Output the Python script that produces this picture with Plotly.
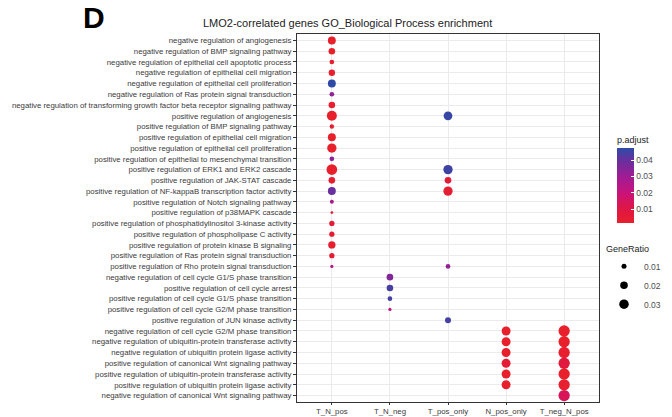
import plotly.graph_objects as go
import math

terms = [
    "negative regulation of angiogenesis",
    "negative regulation of BMP signaling pathway",
    "negative regulation of epithelial cell apoptotic process",
    "negative regulation of epithelial cell migration",
    "negative regulation of epithelial cell proliferation",
    "negative regulation of Ras protein signal transduction",
    "negative regulation of transforming growth factor beta receptor signaling pathway",
    "positive regulation of angiogenesis",
    "positive regulation of BMP signaling pathway",
    "positive regulation of epithelial cell migration",
    "positive regulation of epithelial cell proliferation",
    "positive regulation of epithelial to mesenchymal transition",
    "positive regulation of ERK1 and ERK2 cascade",
    "positive regulation of JAK-STAT cascade",
    "positive regulation of NF-kappaB transcription factor activity",
    "positive regulation of Notch signaling pathway",
    "positive regulation of p38MAPK cascade",
    "positive regulation of phosphatidylinositol 3-kinase activity",
    "positive regulation of phospholipase C activity",
    "positive regulation of protein kinase B signaling",
    "positive regulation of Ras protein signal transduction",
    "positive regulation of Rho protein signal transduction",
    "negative regulation of cell cycle G1/S phase transition",
    "positive regulation of cell cycle arrest",
    "positive regulation of cell cycle G1/S phase transition",
    "positive regulation of cell cycle G2/M phase transition",
    "positive regulation of JUN kinase activity",
    "negative regulation of cell cycle G2/M phase transition",
    "negative regulation of ubiquitin-protein transferase activity",
    "negative regulation of ubiquitin protein ligase activity",
    "positive regulation of canonical Wnt signaling pathway",
    "positive regulation of ubiquitin-protein transferase activity",
    "positive regulation of ubiquitin protein ligase activity",
    "negative regulation of canonical Wnt signaling pathway",
]

groups = ["T_N_pos", "T_N_neg", "T_pos_only", "N_pos_only", "T_neg_N_pos"]

# T_N_pos
tnpos_terms = terms[0:22]
tnpos_ratio = [0.022, 0.016, 0.009, 0.015, 0.022, 0.009, 0.016, 0.033, 0.008, 0.022, 0.029,
               0.009, 0.037, 0.016, 0.022, 0.007, 0.004, 0.011, 0.011, 0.019, 0.011, 0.005]
tnpos_padj = [0.002, 0.002, 0.003, 0.003, 0.047, 0.033, 0.003, 0.002, 0.004, 0.002, 0.002,
              0.033, 0.002, 0.004, 0.040, 0.028, 0.006, 0.005, 0.004, 0.003, 0.004, 0.024]

# T_N_neg
tnneg_terms = terms[22:26]
tnneg_ratio = [0.016, 0.016, 0.009, 0.005]
tnneg_padj = [0.035, 0.044, 0.044, 0.022]

# T_pos_only
tpos_terms = [terms[7], terms[12], terms[13], terms[14], terms[21], terms[26]]
tpos_ratio = [0.026, 0.029, 0.016, 0.029, 0.009, 0.0135]
tpos_padj = [0.046, 0.045, 0.006, 0.004, 0.032, 0.044]

# N_pos_only
npos_terms = terms[27:33]
npos_ratio = [0.027, 0.027, 0.027, 0.027, 0.027, 0.027]
npos_padj = [0.002, 0.002, 0.002, 0.005, 0.002, 0.002]

# T_neg_N_pos
tnegnpos_terms = terms[27:34]
tnegnpos_ratio = [0.041, 0.041, 0.041, 0.041, 0.041, 0.041, 0.041]
tnegnpos_padj = [0.002, 0.002, 0.003, 0.008, 0.002, 0.003, 0.014]

legend_ratios = [0.01, 0.02, 0.03]
padj_ticks = [0.01, 0.02, 0.03, 0.04]
cmin, cmax = 0.0017, 0.0473

def diam(r):
    return -1.15 + 61.5 * math.sqrt(r)

colorscale = [[0.0, "#E8202B"], [0.2, "#DE1646"], [0.4, "#C9137A"],
              [0.62, "#A01C94"], [0.84, "#67309E"], [1.0, "#2D4BA6"]]

fig = go.Figure()

series = [
    ("T_N_pos", tnpos_terms, tnpos_ratio, tnpos_padj),
    ("T_N_neg", tnneg_terms, tnneg_ratio, tnneg_padj),
    ("T_pos_only", tpos_terms, tpos_ratio, tpos_padj),
    ("N_pos_only", npos_terms, npos_ratio, npos_padj),
    ("T_neg_N_pos", tnegnpos_terms, tnegnpos_ratio, tnegnpos_padj),
]

for i, (g, ts, rs, ps) in enumerate(series):
    fig.add_trace(go.Scatter(
        x=[g] * len(ts), y=ts, mode="markers",
        marker=dict(size=[diam(r) for r in rs], color=ps, coloraxis="coloraxis",
                    line=dict(width=0), opacity=1),
        showlegend=False, hoverinfo="skip",
    ))

for r in legend_ratios:
    fig.add_trace(go.Scatter(
        x=[None], y=[None], mode="markers", name=f"{r:.2f}",
        marker=dict(size=diam(r), color="black", line=dict(width=0)),
        showlegend=True,
    ))

W, H = 672, 417
L, R, T, B = 297, 599, 34, 402
pw, ph = R - L, B - T

def px_x(x):
    return (x - L) / pw

def px_y(y):
    return 1 - (y - T) / ph

fig.update_layout(
    width=W, height=H,
    margin=dict(l=L, r=W - R, t=T, b=H - B, autoexpand=False),
    plot_bgcolor="white", paper_bgcolor="white",
    font=dict(family="Liberation Sans Narrow, Arial Narrow, Liberation Sans, Arial", color="#3A3A3A"),
    coloraxis=dict(
        cmin=cmin, cmax=cmax, colorscale=colorscale,
        colorbar=dict(
            title=dict(text="p.adjust", side="top", font=dict(size=9, color="#222222")),
            tickvals=padj_ticks, ticktext=[f"{v:.2f}" for v in padj_ticks],
            ticks="inside", ticklen=3, tickcolor="white", tickwidth=1,
            tickfont=dict(size=8.5, color="#4D4D4D"),
            thickness=17, thicknessmode="pixels",
            len=90, lenmode="pixels",
            x=px_x(617), xanchor="left", xpad=0,
            y=px_y(178), yanchor="middle", ypad=0,
            outlinewidth=0,
        ),
    ),
    legend=dict(
        title=dict(text="GeneRatio", font=dict(size=9, color="#222222")),
        font=dict(size=8.5, color="#4D4D4D"),
        x=px_x(604), xanchor="left", y=px_y(240), yanchor="top",
        itemwidth=30, tracegroupgap=0, bgcolor="rgba(0,0,0,0)",
    ),
    showlegend=True,
)

fig.update_xaxes(
    type="category", categoryorder="array", categoryarray=groups,
    range=[-0.6, len(groups) - 0.4], automargin=False,
    showgrid=True, gridcolor="#EBEBEB", gridwidth=1,
    showline=True, mirror=True, linecolor="#333333", linewidth=1,
    ticks="outside", ticklen=2, tickcolor="#333333", tickwidth=1,
    tickfont=dict(size=7.8, color="#3A3A3A"), zeroline=False,
)
fig.update_yaxes(
    type="category", categoryorder="array", categoryarray=terms,
    range=[len(terms) - 0.4, -0.6], automargin=False,
    showgrid=True, gridcolor="#EBEBEB", gridwidth=1,
    showline=True, mirror=True, linecolor="#333333", linewidth=1,
    ticks="outside", ticklen=3, tickcolor="#333333", tickwidth=1,
    tickfont=dict(size=7.8, color="#3A3A3A"), zeroline=False,
)

fig.add_annotation(
    text="<b>D</b>", xref="paper", yref="paper", x=px_x(81), y=px_y(17.5),
    xanchor="left", yanchor="middle", showarrow=False,
    font=dict(size=30, color="black", family="Liberation Sans, Arial"),
)
fig.add_annotation(
    text="LMO2-correlated genes GO_Biological Process enrichment",
    xref="paper", yref="paper", x=px_x(347), y=px_y(22.7),
    xanchor="center", yanchor="middle", showarrow=False,
    font=dict(size=11, color="#222222"),
)

fig.write_html("out.html")
